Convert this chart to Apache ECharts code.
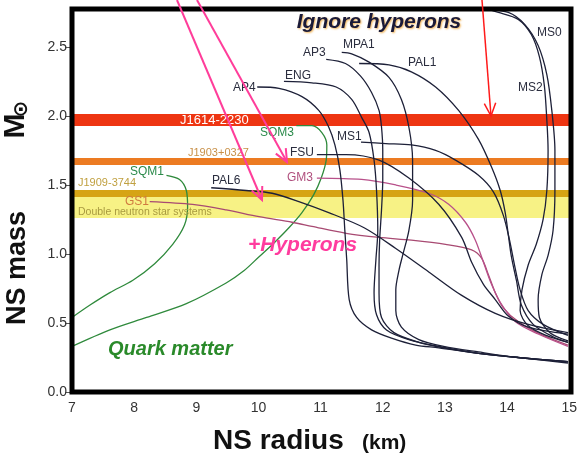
<!DOCTYPE html>
<html>
<head>
<meta charset="utf-8">
<script src="https://cdn.jsdelivr.net/npm/echarts/dist/echarts.min.js"></script>
<style>
html, body { margin: 0; padding: 0; background: #fff; }
#main { width: 580px; height: 457px; }
</style>
</head>
<body>
<div id="main"></div>
<script>
// mass-radius curves: [radius km, mass Msun]
const sqm1 = [[8.52,1.57],[8.73,1.54],[8.84,1.46],[8.86,1.34],[8.81,1.21],[8.62,1.07],[8.33,0.93],[7.98,0.81],[7.61,0.72],[7.29,0.63],[7.0,0.54]]
const sqm3 = [[10.61,1.93],[10.86,1.93],[11.02,1.88],[11.10,1.79],[11.09,1.68],[11.01,1.55],[10.89,1.43],[10.70,1.30],[10.49,1.19],[10.25,1.08],[10.01,0.98],[9.77,0.88],[9.48,0.79],[8.84,0.64],[8.20,0.54],[7.61,0.45],[7.0,0.33]]
const ap4 = [[9.98,2.21],[10.33,2.20],[10.70,2.14],[10.97,2.04],[11.13,1.92],[11.23,1.79],[11.31,1.61],[11.36,1.39],[11.39,1.17],[11.42,0.96],[11.46,0.67],[11.58,0.54],[11.82,0.45],[12.14,0.39],[12.53,0.34],[12.90,0.32],[13.54,0.28],[14.18,0.25],[14.98,0.22]]
const eng = [[10.41,2.25],[10.86,2.24],[11.25,2.21],[11.50,2.12],[11.66,1.99],[11.78,1.88],[11.86,1.68],[11.90,1.46],[11.92,1.17],[11.89,0.96],[11.86,0.72],[11.90,0.56],[12.06,0.45],[12.42,0.38],[12.90,0.33],[13.54,0.28],[14.18,0.25],[14.98,0.21]]
const ap3 = [[11.09,2.41],[11.40,2.38],[11.64,2.29],[11.82,2.17],[11.94,2.04],[11.98,1.92],[12.0,1.75],[12.0,1.54],[11.98,1.32],[11.95,1.10],[11.94,0.92],[11.94,0.72],[11.98,0.54],[12.18,0.43],[12.58,0.36],[12.98,0.32],[13.54,0.28],[14.18,0.25],[14.98,0.22]]
const mpa1 = [[11.34,2.46],[11.50,2.45],[11.78,2.39],[12.10,2.28],[12.30,2.12],[12.42,1.92],[12.48,1.68],[12.48,1.39],[12.42,1.17],[12.32,0.99],[12.26,0.88],[12.21,0.74],[12.21,0.59],[12.30,0.47],[12.58,0.38],[12.98,0.33],[13.54,0.29],[14.18,0.25],[14.98,0.22]]
const pal1 = [[11.62,2.38],[12.10,2.37],[12.46,2.32],[12.85,2.21],[13.22,2.04],[13.54,1.83],[13.75,1.63],[13.89,1.46],[13.97,1.30],[14.02,1.14],[14.07,0.98],[14.15,0.81],[14.23,0.63],[14.42,0.49],[14.74,0.40],[14.98,0.36]]
const ms0 = [[13.06,2.83],[13.54,2.78],[14.02,2.75],[14.29,2.66],[14.50,2.51],[14.64,2.30],[14.72,2.04],[14.77,1.75],[14.77,1.46],[14.74,1.17],[14.66,0.99],[14.56,0.85],[14.50,0.67],[14.52,0.54],[14.69,0.43],[14.98,0.37]]
const ms2 = [[13.38,2.81],[13.86,2.75],[14.18,2.70],[14.39,2.59],[14.52,2.43],[14.60,2.22],[14.64,1.97],[14.66,1.75],[14.64,1.46],[14.58,1.25],[14.47,1.07],[14.34,0.92],[14.24,0.74],[14.21,0.59],[14.34,0.48],[14.63,0.41],[14.98,0.36]]
const ms1 = [[11.65,1.81],[12.05,1.80],[12.46,1.79],[12.85,1.75],[13.17,1.68],[13.54,1.57],[13.78,1.45],[13.94,1.28],[14.04,1.10],[14.12,0.92],[14.21,0.74],[14.34,0.59],[14.58,0.49],[14.98,0.41]]
const fsu = [[10.94,1.72],[11.41,1.72],[11.94,1.68],[12.42,1.55],[12.90,1.36],[13.27,1.12],[13.43,0.94],[13.62,0.78],[13.81,0.67],[14.02,0.55],[14.34,0.47],[14.98,0.42]]
const pal6 = [[9.24,1.48],[9.80,1.46],[10.22,1.44],[10.65,1.38],[11.13,1.30],[11.70,1.19],[12.21,1.04],[12.74,0.87],[13.27,0.70],[13.81,0.57],[14.34,0.49],[14.98,0.43]]
const gm3 = [[10.94,1.55],[11.66,1.54],[12.21,1.50],[12.74,1.44],[13.06,1.36],[13.33,1.23],[13.49,1.10],[13.62,0.94],[13.75,0.78],[13.89,0.65],[14.13,0.51],[14.50,0.42],[14.98,0.33]]
const gs1 = [[8.25,1.38],[8.94,1.36],[9.48,1.32],[10.01,1.27],[10.54,1.23],[10.86,1.20],[11.41,1.15],[11.94,1.12],[12.46,1.10],[13.01,1.07],[13.43,1.03],[13.59,0.97],[13.70,0.85],[13.81,0.72],[13.94,0.61],[14.18,0.51],[14.58,0.41],[14.98,0.34]]

// measured pulsar masses (Msun bands)
const j1614 = [1.928, 2.014]
const j1903 = [1.645, 1.696]
const j1909 = [1.413, 1.464]
const dnsBand = [1.261, 1.413]

const radiusRange = [7, 15]
const massRange = [0, 2.775]
const massTicks = [0, 0.5, 1.0, 1.5, 2.0, 2.5]

const FONT = 'Liberation Sans, Arial, sans-serif'
const NAVY = '#1d2038'
const GREEN = '#2f8a3c'

function curve(name, data, color) {
  return {
    name: name,
    type: 'line',
    data: data,
    smooth: 0.3,
    symbol: 'none',
    silent: true,
    z: 3,
    lineStyle: { color: color, width: 1.3 }
  }
}

function band(range, color) {
  return [{ yAxis: range[0], itemStyle: { color: color } }, { yAxis: range[1] }]
}

function txt(x, y, text, size, color, extra) {
  return {
    type: 'text', x: x, y: y, z: 60, silent: true,
    style: Object.assign({
      text: text, fill: color, fontSize: size, fontFamily: FONT, verticalAlign: 'middle'
    }, extra || {})
  }
}

function arrow(x1, y1, x2, y2, color, w) {
  const a = Math.atan2(y2 - y1, x2 - x1)
  const L = 14, s = 0.42
  return [
    { type: 'line', z: 70, silent: true, shape: { x1: x1, y1: y1, x2: x2, y2: y2 }, style: { stroke: color, lineWidth: w } },
    { type: 'polyline', z: 70, silent: true,
      shape: { points: [[x2 - L * Math.cos(a - s), y2 - L * Math.sin(a - s)], [x2, y2], [x2 - L * Math.cos(a + s), y2 - L * Math.sin(a + s)]] },
      style: { stroke: color, lineWidth: w, fill: null } }
  ]
}

const chart = echarts.init(document.getElementById('main'))

const option = {
  animation: false,
  backgroundColor: '#fff',
  grid: { left: 72, right: 9, top: 9, bottom: 65 },
  xAxis: {
    type: 'value',
    min: radiusRange[0],
    max: radiusRange[1],
    interval: 1,
    axisLine: { show: false },
    axisTick: { show: false },
    splitLine: { show: false },
    axisLabel: { color: '#333', fontSize: 14, fontFamily: FONT, margin: 9 }
  },
  yAxis: {
    type: 'value',
    min: massRange[0],
    max: massRange[1],
    interval: 0.5,
    axisLine: { show: false },
    axisTick: { show: true, length: 7, customValues: massTicks, lineStyle: { color: '#555' } },
    splitLine: { show: false },
    axisLabel: {
      color: '#333', fontSize: 14, fontFamily: FONT, margin: 5,
      customValues: massTicks,
      formatter: function (v) { return v.toFixed(1) }
    }
  },
  series: [
    {
      name: 'bands',
      type: 'line',
      data: [],
      silent: true,
      z: 1,
      markArea: {
        silent: true,
        label: { show: false },
        data: [
          band(j1614, '#ee3512'),
          band(j1903, '#ec7b22'),
          band(j1909, '#d6a414'),
          band(dnsBand, '#f7f285')
        ]
      }
    },
    curve('SQM1', sqm1, GREEN),
    curve('SQM3', sqm3, GREEN),
    curve('GS1', gs1, '#a84a72'),
    curve('GM3', gm3, '#b8508a'),
    curve('AP4', ap4, NAVY),
    curve('ENG', eng, NAVY),
    curve('AP3', ap3, NAVY),
    curve('MPA1', mpa1, NAVY),
    curve('PAL1', pal1, NAVY),
    curve('MS0', ms0, NAVY),
    curve('MS2', ms2, NAVY),
    curve('MS1', ms1, NAVY),
    curve('FSU', fsu, NAVY),
    curve('PAL6', pal6, NAVY)
  ],
  graphic: [
    // frame
    { type: 'rect', z: 55, silent: true, shape: { x: 72, y: 9, width: 499, height: 383 },
      style: { stroke: '#000', lineWidth: 5, fill: null } },
    // curve labels
    txt(233, 88, 'AP4', 12, '#2a2d3e'),
    txt(285, 76, 'ENG', 12, '#2a2d3e'),
    txt(303, 53, 'AP3', 12, '#2a2d3e'),
    txt(343, 45, 'MPA1', 12, '#2a2d3e'),
    txt(408, 63, 'PAL1', 12, '#2a2d3e'),
    txt(537, 33, 'MS0', 12, '#2a2d3e'),
    txt(518, 88, 'MS2', 12, '#2a2d3e'),
    txt(337, 137, 'MS1', 12, '#2a2d3e'),
    txt(290, 153, 'FSU', 12, '#2a2d3e'),
    txt(287, 178, 'GM3', 12, '#b0507e'),
    txt(212, 181, 'PAL6', 12, '#2a2d3e'),
    txt(125, 202, 'GS1', 12, '#d07a40'),
    txt(130, 172, 'SQM1', 12, '#2a8a4a'),
    txt(260, 133, 'SQM3', 12, '#2a8a4a'),
    // band labels
    txt(180, 120, 'J1614-2230', 13, '#fff'),
    txt(188, 153, 'J1903+0327', 11, '#c89048'),
    txt(78, 183, 'J1909-3744', 11, '#c0a040'),
    txt(78, 212, 'Double neutron star systems', 10.5, '#a89a40'),
    // annotations
    txt(379, 22, 'Ignore hyperons', 21, '#1a1a38', {
      align: 'center', fontWeight: 'bold', fontStyle: 'italic',
      textShadowColor: 'rgba(235,150,20,0.7)', textShadowBlur: 2, textShadowOffsetX: 1, textShadowOffsetY: 1
    }),
    txt(248, 245, '+Hyperons', 21, '#ff3c9e', { fontWeight: 'bold', fontStyle: 'italic' }),
    txt(108, 349, 'Quark matter', 20, '#2a8a2a', { fontWeight: 'bold', fontStyle: 'italic' }),
    // axis titles
    txt(18, 268, 'NS mass', 27, '#111', { align: 'center', fontWeight: 'bold' }),
    txt(213, 441, 'NS radius', 28, '#111', { fontWeight: 'bold' }),
    txt(362, 443, '(km)', 21, '#111', { fontWeight: 'bold' })
  ]
    .concat([
      Object.assign(txt(16, 126, 'M', 30, '#111', { align: 'center', fontWeight: 'bold' }), { rotation: Math.PI / 2 }),
      Object.assign(txt(22, 109, '\u2299', 20, '#111', { align: 'center', fontWeight: 'bold', fontFamily: 'DejaVu Sans' }), { rotation: Math.PI / 2 })
    ])
    .concat(arrow(177, 0, 262, 200, '#ff3d9a', 2))
    .concat(arrow(197, 0, 287, 162, '#ff3d9a', 2))
    .concat(arrow(482, 0, 491, 116, '#ff1a1a', 1.5))
}

// rotate the mass title
option.graphic.forEach(function (g) {
  if (g.style && g.style.text === 'NS mass') g.rotation = Math.PI / 2
})

chart.setOption(option)
</script>
</body>
</html>
